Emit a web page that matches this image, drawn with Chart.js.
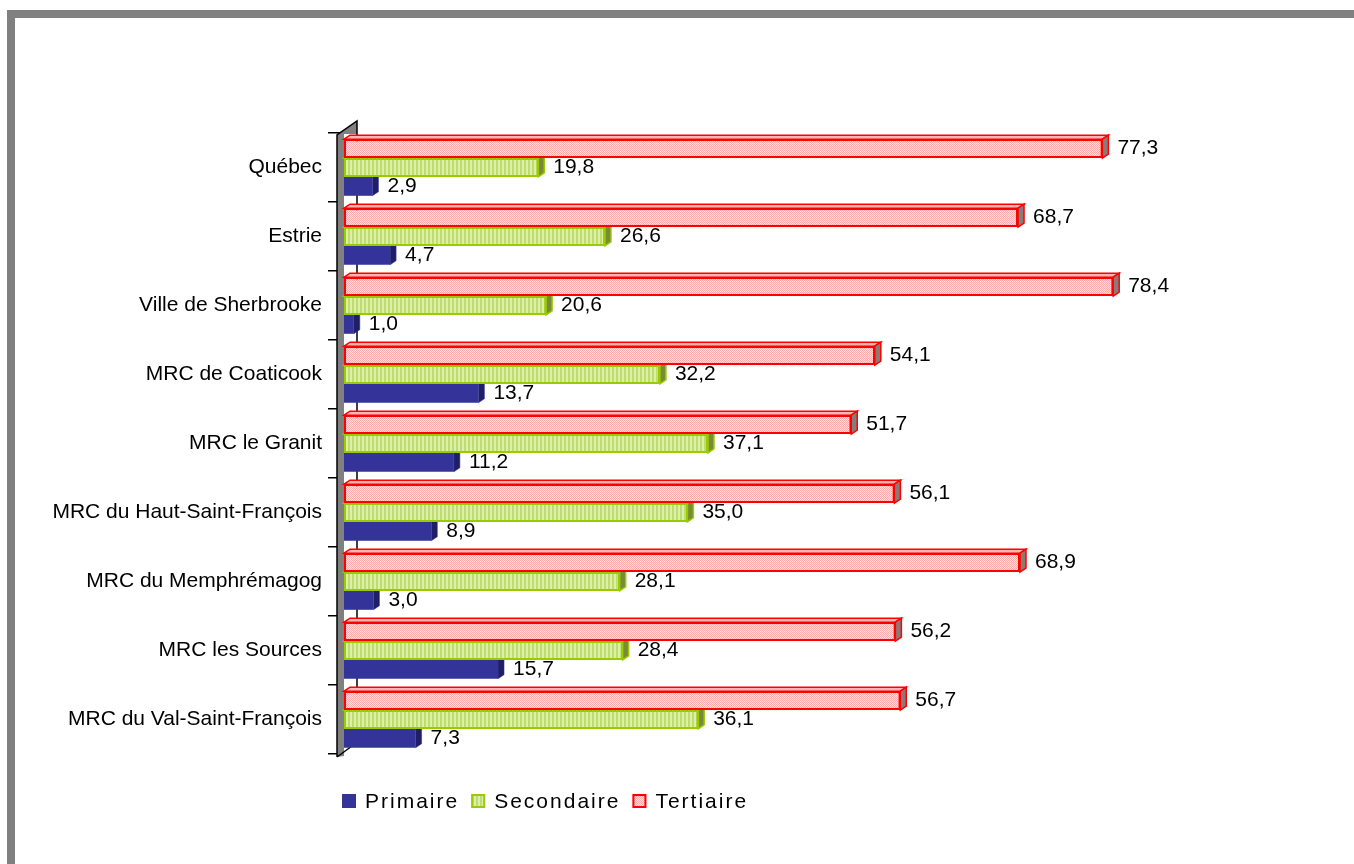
<!DOCTYPE html>
<html>
<head>
<meta charset="utf-8">
<title>Emplois par secteur d'activité</title>
<script src="https://cdn.jsdelivr.net/npm/chart.js@4.4.1/dist/chart.umd.min.js"></script>
<style>
    html, body { margin: 0; padding: 0; background: #fff; }
    #cadre {
        position: absolute; left: 7px; top: 10px; width: 1347px; height: 854px;
        border-left: 8px solid #808080; border-top: 8px solid #808080; box-sizing: border-box;
    }
    #graphique { position: absolute; left: 0; top: 0; }
</style>
</head>
<body>
<div id="cadre"></div>
<canvas id="graphique" width="1354" height="864"></canvas>
<script>

/*
 * Donnees (%)
 * */
var regions = [
    "Québec",
    "Estrie",
    "Ville de Sherbrooke",
    "MRC de Coaticook",
    "MRC le Granit",
    "MRC du Haut-Saint-François",
    "MRC du Memphrémagog",
    "MRC les Sources",
    "MRC du Val-Saint-François"
];
var primaire   = [2.9, 4.7, 1.0, 13.7, 11.2, 8.9, 3.0, 15.7, 7.3];
var secondaire = [19.8, 26.6, 20.6, 32.2, 37.1, 35.0, 28.1, 28.4, 36.1];
var tertiaire  = [77.3, 68.7, 78.4, 54.1, 51.7, 56.1, 68.9, 56.2, 56.7];
var nomsSeries = ["Primaire", "Secondaire", "Tertiaire"];
var valeurMax = 90;

var police = '"Liberation Sans", Arial, sans-serif';

/*
 * Motifs de remplissage (style Excel)
 * */
function creerMotif(largeur, hauteur, dessin) {
    var c = document.createElement('canvas');
    c.width = largeur;
    c.height = hauteur;
    var cx = c.getContext('2d');
    dessin(cx);
    return cx.createPattern(c, 'repeat');
}

var motifVert = creerMotif(4, 4, function (cx) {
    cx.fillStyle = '#DCF0A8';
    cx.fillRect(0, 0, 4, 4);
    cx.fillStyle = '#BEDD6E';
    cx.fillRect(0, 0, 2, 4);
});

var motifRose = creerMotif(2, 2, function (cx) {
    cx.fillStyle = '#FFE2E2';
    cx.fillRect(0, 0, 2, 2);
    cx.fillStyle = '#F7ABAB';
    cx.fillRect(0, 0, 1, 1);
    cx.fillRect(1, 1, 1, 1);
});

// styles par serie : [Primaire, Secondaire, Tertiaire]
var styles = {
    Primaire:   { fond: '#333399', bord: '#333399', bordLarg: 0,   dessus: '#5C5CB8', cote: '#1F1F66' },
    Secondaire: { fond: motifVert, bord: '#99CC00', bordLarg: 2,   dessus: '#CDE88F', cote: '#7A8A3A' },
    Tertiaire:  { fond: motifRose, bord: '#FF0000', bordLarg: 2,   dessus: '#F6B6B6', cote: '#8A7A7A' }
};

function formatValeur(v) {
    return v.toFixed(1).replace('.', ',');
}

/*
 * Mur gauche et faces 3D des barres, dessines avant les barres
 * */
var effet3D = {
    id: 'effet3D',
    beforeDatasetsDraw: function (chart) {
        var ctx = chart.ctx;
        var area = chart.chartArea;
        var L = area.left, T = area.top, B = area.bottom;
        var dx = 6, dy = 4;

        ctx.save();

        // mur
        ctx.fillStyle = '#808080';
        ctx.beginPath();
        ctx.moveTo(L - 7, T + 2);
        ctx.lineTo(L + 13, T - 12);
        ctx.lineTo(L + 13, T + 1);
        ctx.lineTo(L, T + 1);
        ctx.lineTo(L, B + 2);
        ctx.lineTo(L - 7, B + 3);
        ctx.closePath();
        ctx.fill();

        ctx.strokeStyle = '#000';
        ctx.lineWidth = 1.5;
        ctx.beginPath();
        ctx.moveTo(L - 7, B + 3);
        ctx.lineTo(L - 7, T + 2);
        ctx.lineTo(L + 13, T - 12);
        ctx.lineTo(L + 13, B - 8);
        ctx.moveTo(L - 7, B + 3);
        ctx.lineTo(L + 8, B - 8);
        ctx.stroke();

        // faces 3D
        chart.data.datasets.forEach(function (ds, i) {
            var st = styles[ds.label];
            var meta = chart.getDatasetMeta(i);
            meta.data.forEach(function (el) {
                var h = el.height;
                var haut = el.y - h / 2;
                var bas = el.y + h / 2;

                ctx.fillStyle = st.dessus;
                ctx.strokeStyle = st.bord;
                ctx.lineWidth = st.bordLarg ? 1.5 : 0.5;
                ctx.beginPath();
                ctx.moveTo(el.base, haut);
                ctx.lineTo(el.base + dx, haut - dy);
                ctx.lineTo(el.x + dx, haut - dy);
                ctx.lineTo(el.x, haut);
                ctx.closePath();
                ctx.fill();
                ctx.stroke();

                ctx.fillStyle = st.cote;
                ctx.beginPath();
                ctx.moveTo(el.x, haut);
                ctx.lineTo(el.x + dx, haut - dy);
                ctx.lineTo(el.x + dx, bas - dy);
                ctx.lineTo(el.x, bas);
                ctx.closePath();
                ctx.fill();
                ctx.stroke();
            });
        });

        ctx.restore();
    }
};

/*
 * Etiquettes de valeurs
 * */
var etiquettes = {
    id: 'etiquettes',
    afterDatasetsDraw: function (chart) {
        var ctx = chart.ctx;
        ctx.save();
        ctx.font = '21px ' + police;
        ctx.fillStyle = '#000';
        ctx.textAlign = 'left';
        ctx.textBaseline = 'middle';
        chart.data.datasets.forEach(function (ds, i) {
            var meta = chart.getDatasetMeta(i);
            meta.data.forEach(function (el, j) {
                ctx.fillText(formatValeur(ds.data[j]), el.x + 15, el.y);
            });
        });
        ctx.restore();
    }
};

/*
 * Legende (dessinee a la main pour l'espacement des lettres)
 * */
var legende = {
    id: 'legendeExcel',
    afterDraw: function (chart) {
        var ctx = chart.ctx;
        var x = chart.chartArea.left - 2;
        var y = 794;
        var cote = 14;
        ctx.save();
        ctx.font = '21px ' + police;
        ctx.textAlign = 'left';
        ctx.textBaseline = 'alphabetic';
        if ('letterSpacing' in ctx) {
            ctx.letterSpacing = '2px';
        }
        nomsSeries.forEach(function (nom) {
            var st = styles[nom];
            ctx.fillStyle = st.fond;
            ctx.fillRect(x, y, cote, cote);
            if (st.bordLarg) {
                ctx.strokeStyle = st.bord;
                ctx.lineWidth = 2;
                ctx.strokeRect(x + 1, y + 1, cote - 2, cote - 2);
            }
            ctx.fillStyle = '#000';
            ctx.fillText(nom, x + cote + 9, y + cote);
            x = x + cote + 9 + ctx.measureText(nom).width + 12;
        });
        ctx.restore();
    }
};

function creerDataset(nom, valeurs) {
    var st = styles[nom];
    return {
        label: nom,
        data: valeurs,
        backgroundColor: st.fond,
        borderColor: st.bord,
        borderWidth: st.bordLarg,
        borderSkipped: false,
        categoryPercentage: 0.82,
        barPercentage: 1.0
    };
}

function chargerGraphique() {
    var canvas = document.getElementById('graphique');
    var ctx = canvas.getContext('2d');

    // ordre inverse : Tertiaire en haut de chaque groupe
    var datasets = [
        creerDataset('Tertiaire', tertiaire),
        creerDataset('Secondaire', secondaire),
        creerDataset('Primaire', primaire)
    ];

    new Chart(ctx, {
        type: 'bar',
        data: {
            labels: regions,
            datasets: datasets
        },
        options: {
            indexAxis: 'y',
            responsive: false,
            animation: false,
            layout: {
                padding: { top: 133, bottom: 110, left: 0, right: 127 }
            },
            plugins: {
                legend: { display: false },
                tooltip: { enabled: false }
            },
            scales: {
                x: {
                    display: false,
                    min: 0,
                    max: valeurMax
                },
                y: {
                    border: { display: false },
                    grid: {
                        offset: true,
                        drawOnChartArea: false,
                        drawTicks: true,
                        tickLength: 16,
                        color: '#000',
                        lineWidth: 1.5
                    },
                    ticks: {
                        color: '#000',
                        padding: 6,
                        autoSkip: false,
                        font: { family: police, size: 21 }
                    },
                    afterFit: function (scale) {
                        scale.width = 344;
                    }
                }
            }
        },
        plugins: [effet3D, etiquettes, legende]
    });
}

chargerGraphique();
</script>
</body>
</html>
